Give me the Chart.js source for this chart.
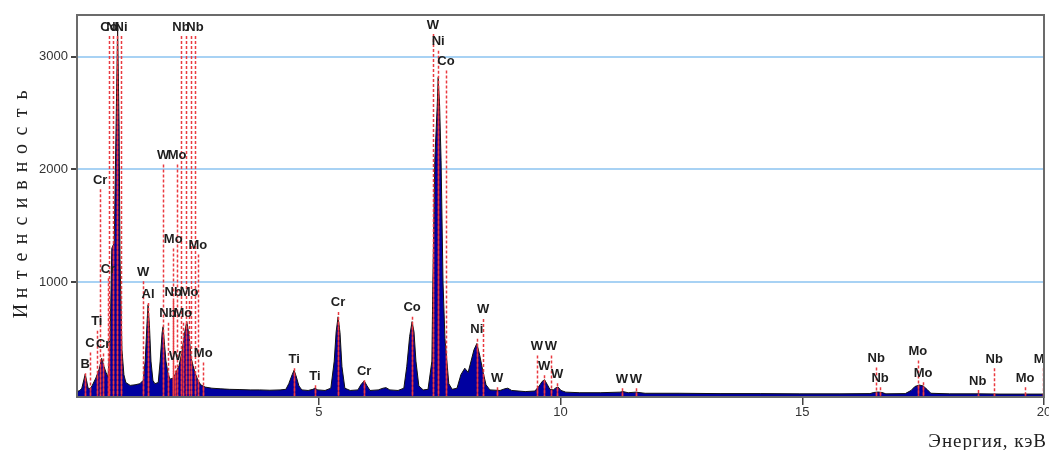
<!DOCTYPE html>
<html><head><meta charset="utf-8">
<script src="https://cdn.jsdelivr.net/npm/chart.js@4"></script>
<style>html,body{margin:0;padding:0;background:#fff;}#wrap{width:1049px;height:450px;}</style>
</head><body><div id="wrap"><canvas id="c" width="1049" height="450"></canvas></div>
<script>
// ---- data ----
const energy = [
 0.00,0.06,0.10,0.17,0.23,0.27,0.31,0.39,0.46,0.51,
 0.56,0.60,0.64,0.68,0.72,0.77,0.81,0.84,0.87,0.89,
 0.93,0.97,1.01,1.10,1.20,1.30,1.37,1.41,1.45,1.47,
 1.50,1.53,1.57,1.61,1.68,1.72,1.76,1.78,1.81,1.84,
 1.88,1.92,1.99,2.05,2.11,2.17,2.23,2.27,2.32,2.36,
 2.40,2.44,2.50,2.56,2.65,2.79,2.96,3.16,3.37,3.58,
 3.78,3.99,4.20,4.32,4.38,4.45,4.49,4.53,4.59,4.65,
 4.78,4.88,4.92,4.98,5.13,5.25,5.32,5.36,5.40,5.44,
 5.48,5.54,5.65,5.81,5.87,5.94,6.00,6.06,6.23,6.33,
 6.39,6.47,6.64,6.76,6.82,6.88,6.93,6.97,7.01,7.07,
 7.16,7.26,7.34,7.36,7.40,7.45,7.47,7.50,7.53,7.57,
 7.61,7.65,7.69,7.76,7.86,7.94,8.02,8.09,8.15,8.21,
 8.27,8.33,8.40,8.46,8.54,8.75,8.85,8.91,8.99,9.27,
 9.47,9.56,9.62,9.67,9.73,9.78,9.85,9.91,9.95,10.01,
 10.11,10.40,10.82,11.23,11.29,11.40,11.56,11.75,12.47,13.30,
 14.13,14.95,15.78,16.40,16.48,16.57,16.65,16.73,17.13,17.25,
 17.33,17.42,17.50,17.58,17.66,18.05,18.67,19.09,20.00
];
const counts = [
 30,40,60,185,60,55,80,150,230,325,
 250,200,160,400,1300,1350,2430,3250,2400,1200,
 400,180,110,85,90,100,130,300,650,800,
 600,300,130,100,110,300,550,605,450,300,
 200,140,150,200,260,380,560,650,520,330,
 260,200,130,90,70,60,55,50,48,45,
 45,42,45,50,100,180,219,170,80,45,
 40,50,60,45,40,60,300,560,693,550,
 250,60,40,45,90,125,80,40,45,60,
 65,45,40,60,250,520,650,560,300,80,
 45,50,300,1000,2080,2560,2815,2560,2080,1000,
 500,300,100,50,60,180,237,200,300,400,
 456,350,200,90,45,40,55,60,40,30,
 35,80,120,135,90,50,45,65,70,40,
 25,20,20,25,30,20,25,15,15,12,
 12,10,10,12,22,26,22,10,12,40,
 75,88,80,50,15,10,10,8,8
];
// element marker lines: energy (keV), label, label height (counts)
const lineEnergy = [0.17,0.27,0.41,0.48,0.54,0.64,0.66,0.74,0.83,0.91,
 1.37,1.47,1.78,2.07,1.99,1.99,1.88,2.19,2.32,2.50,2.03,2.61,2.15,2.25,2.36,2.44,
 7.36,7.47,7.63,4.49,4.92,5.40,5.94,6.93,8.40,8.27,8.69,9.51,9.80,9.66,9.93,11.27,11.56,
 16.53,16.61,17.39,17.50,18.63,18.97,19.61,19.98];
const lineLabel = ['B','C','Ti','Cr','Cr','Cr','Co','Ni','','Ni',
 'W','Al','W','Mo','Mo','Nb','Nb','Mo','Mo','Mo','W','Mo','Nb','','','Nb',
 'W','Ni','Co','Ti','Ti','Cr','Cr','Co','W','Ni','W','W','W','W','W','W','W',
 'Nb','Nb','Mo','Mo','Nb','Nb','Mo','Mo'];
const labelLevel = [272,456,649,1903,447,1114,3262,3262,3262,3262,
 1087,894,2122,2122,1377,912,719,719,912,1324,342,368,3262,3262,3262,3262,
 3280,3131,2955,316,167,816,210,772,754,579,149,430,430,254,184,140,140,
 324,149,386,193,123,316,149,316];
const yTicks = [1000,2000,3000];
const xTicks = [5,10,15,20];
const xTitle = 'Энергия, кэВ';
const yTitle = 'Интенсивность';

const points = energy.map((e,i)=>({x:e,y:counts[i]}));

const deco = {
 id:'deco',
 afterDatasetsDraw(chart){
  const {ctx, chartArea:a, scales:{x,y}} = chart;
  const meta = chart.getDatasetMeta(0);
  ctx.save();
  ctx.beginPath(); ctx.rect(a.left,a.top,a.right-a.left,a.bottom-a.top); ctx.clip();
  // solid red marker lines inside spectrum fill
  ctx.save();
  ctx.beginPath();
  meta.data.forEach((p,i)=>{ if(i===0) ctx.moveTo(p.x,p.y); else ctx.lineTo(p.x,p.y); });
  ctx.lineTo(meta.data[meta.data.length-1].x,a.bottom);
  ctx.lineTo(meta.data[0].x,a.bottom); ctx.closePath(); ctx.clip();
  ctx.strokeStyle='rgba(235,40,50,0.9)'; ctx.lineWidth=1.5;
  lineEnergy.forEach(e=>{ const px=Math.round(x.getPixelForValue(e))+0.5;
   ctx.beginPath(); ctx.moveTo(px,a.top); ctx.lineTo(px,a.bottom); ctx.stroke(); });
  ctx.restore();
  // dashed marker lines
  ctx.setLineDash([3,2]); ctx.strokeStyle='#ea3a40'; ctx.lineWidth=1.5;
  lineEnergy.forEach((e,i)=>{ const px=Math.round(x.getPixelForValue(e))+0.5;
   const ly=y.getPixelForValue(labelLevel[i]);
   ctx.beginPath(); ctx.moveTo(px,ly+9); ctx.lineTo(px,a.bottom); ctx.stroke(); });
  ctx.setLineDash([]);
  // labels
  ctx.font='bold 13px "Liberation Sans", Arial, sans-serif';
  ctx.fillStyle='#1e1e1e'; ctx.textAlign='center'; ctx.textBaseline='middle';
  lineEnergy.forEach((e,i)=>{ if(!lineLabel[i]) return;
   ctx.fillText(lineLabel[i], x.getPixelForValue(e), y.getPixelForValue(labelLevel[i])); });
  ctx.restore();
  // frame
  ctx.save();
  ctx.strokeStyle='#6b6b6b'; ctx.lineWidth=2;
  ctx.strokeRect(a.left,a.top,a.right-a.left,a.bottom-a.top);
  // axis titles
  ctx.fillStyle='#222';
  ctx.font='19px "Liberation Serif", "Times New Roman", serif';
  ctx.textAlign='right'; ctx.textBaseline='alphabetic';
  ctx.letterSpacing='1px';
  ctx.fillText(xTitle,1047,447);
  ctx.letterSpacing='0px';
  ctx.font='20px "Liberation Serif", "Times New Roman", serif';
  ctx.translate(27,0); ctx.rotate(-Math.PI/2);
  ctx.textAlign='center';
  const chars=[...yTitle];
  chars.forEach((ch,i)=>{ ctx.fillText(ch, -(311 - i*18), 0); });
  ctx.restore();
 }
};

new Chart(document.getElementById('c'),{
 type:'line',
 data:{datasets:[{data:points, fill:'start', backgroundColor:'#0000a0', borderColor:'#111',
   borderWidth:1, pointRadius:0, tension:0}]},
 options:{
  responsive:false, devicePixelRatio:1, animation:false,
  layout:{padding:{top:15,right:5,left:0,bottom:0}},
  plugins:{legend:{display:false},tooltip:{enabled:false}},
  scales:{
   x:{type:'linear',min:0,max:20,
    afterBuildTicks:s=>{s.ticks=xTicks.map(v=>({value:v}));},
    afterFit:s=>{s.height=53; s.paddingRight=0; s.paddingLeft=0;},
    grid:{drawOnChartArea:false,tickLength:8,tickColor:'#444',lineWidth:1.5},
    border:{display:false},
    ticks:{color:'#333',font:{family:'"Liberation Sans", Arial',size:13},padding:0,maxRotation:0,autoSkip:false,
      callback:v=>String(v)}},
   y:{min:-18,max:3368,
    afterBuildTicks:s=>{s.ticks=yTicks.map(v=>({value:v}));},
    afterFit:s=>{s.width=77; s.paddingTop=0; s.paddingBottom=0;},
    grid:{color:'#a8d2f4',lineWidth:2,tickLength:6,tickColor:'#444'},
    border:{display:false},
    ticks:{color:'#333',font:{family:'"Liberation Sans", Arial',size:13},padding:3,
      callback:v=>String(v)}}
  }
 },
 plugins:[deco]
});
</script></body></html>
